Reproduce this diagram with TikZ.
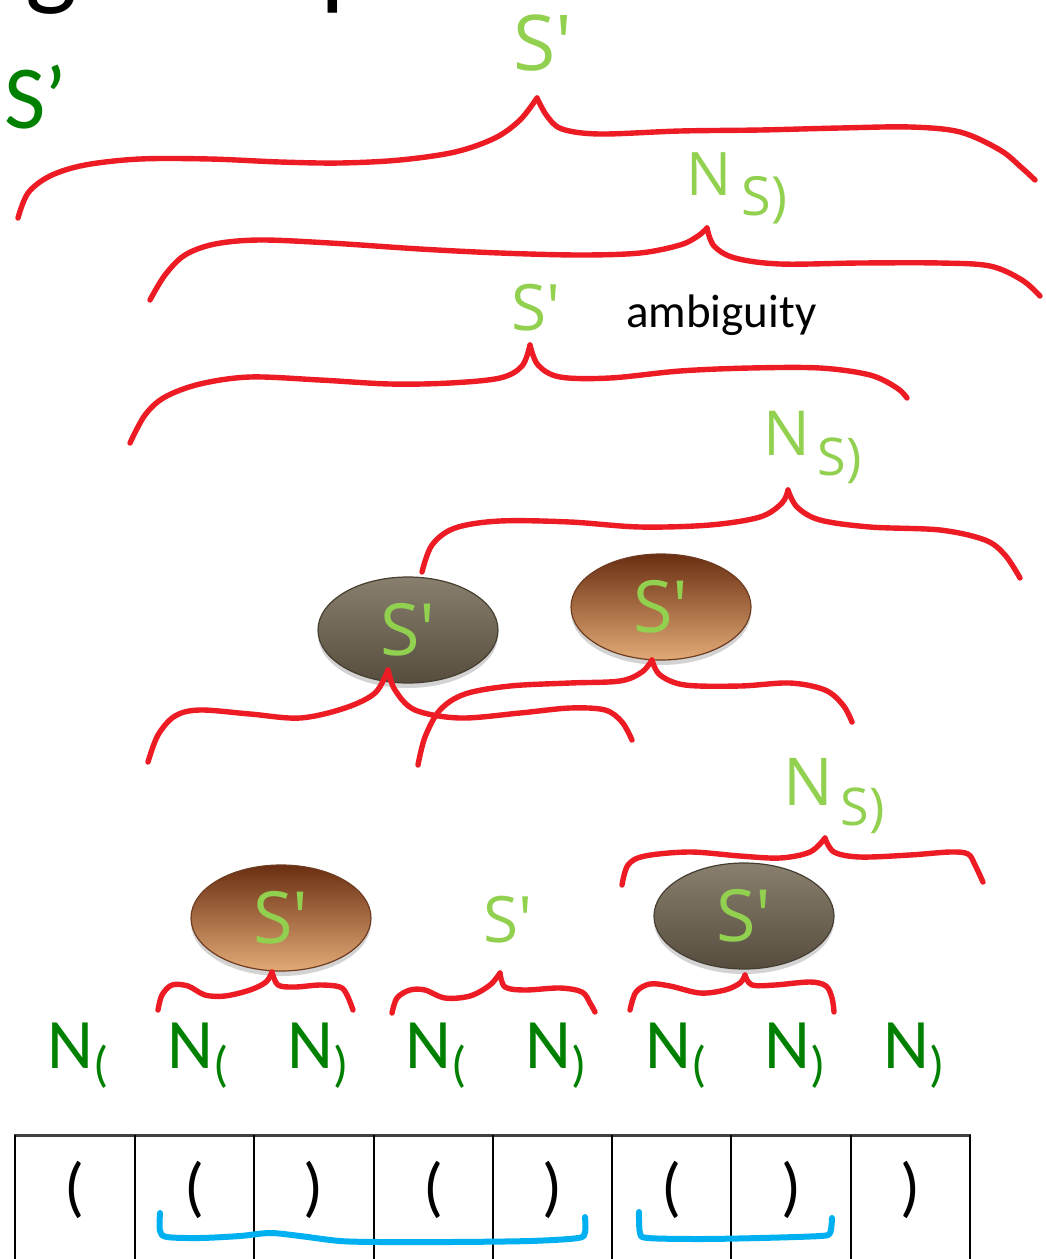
\documentclass[tikz,border=0pt]{standalone}
\usepackage{fontspec}
\usetikzlibrary{shapes.geometric,shadows}
\newfontfamily\calib{Carlito}
\newfontfamily\handfont[Ligatures=TeXOff]{Open Sans}
\newcommand\setfs[1]{\fontsize{#1}{#1}\selectfont}
\definecolor{bracered}{RGB}{237,28,36}
\definecolor{braceblue}{RGB}{0,176,240}
\definecolor{handgreen}{RGB}{146,208,80}
\definecolor{ngreen}{RGB}{0,128,0}
\definecolor{graytop}{RGB}{136,127,110}
\definecolor{graymid}{RGB}{112,102,85}
\definecolor{graybot}{RGB}{86,77,62}
\definecolor{grayedge}{RGB}{70,62,48}
\definecolor{browntop}{RGB}{106,47,18}
\definecolor{brownmid}{RGB}{170,92,46}
\definecolor{brownbot}{RGB}{226,170,118}
\definecolor{brownedge}{RGB}{110,60,32}
\begin{document}
\begin{tikzpicture}[x=1pt,y=-1pt,
  redbrace/.style={draw=bracered,line width=5.4pt,line cap=round,line join=round},
  bluebrace/.style={draw=braceblue,line width=6pt,line cap=round,line join=round},
  hand/.style={text=handgreen,inner sep=0pt,anchor=base west},
  nlab/.style={text=ngreen,inner sep=0pt,anchor=base west,font=\calib\setfs{71}},
  cellparen/.style={inner sep=0pt,anchor=base,font=\calib\setfs{66}},
  pebble/.style={ellipse,minimum width=180pt,minimum height=106pt,inner sep=0pt,
    line width=1.2pt,text=handgreen,font=\handfont\setfs{72},
    drop shadow={shadow xshift=0pt,shadow yshift=-5pt,opacity=0.35}},
  graypebble/.style={pebble,draw=grayedge,top color=graytop,middle color=graymid,bottom color=graybot},
  brownpebble/.style={pebble,draw=brownedge,top color=browntop,middle color=brownmid,bottom color=brownbot},
  gridline/.style={draw=black,line width=1.6pt}
]
\useasboundingbox (0,0) rectangle (1046,1259);

% title (partly outside the page)
\node[anchor=base east,inner sep=0pt,font=\calib\setfs{110}] (title) at (473,-5) {ing an input};

% start symbol
\node[anchor=base west,inner sep=0pt,text=ngreen,font=\calib\setfs{90}] (start) at (4,128) {S’};

% ---- red braces, each as two strokes meeting at a peak ----
% top S'
\coordinate (p1) at (537,98);
\draw[redbrace] plot[smooth,tension=0.55] coordinates {(18,218) (28,193) (50,176) (85,165) (140,159) (210,159) (280,162) (340,163) (400,160) (455,152) (495,138) (520,120) (p1)};
\draw[redbrace] plot[smooth,tension=0.55] coordinates {(p1) (547,116) (562,129) (600,134) (680,131) (760,130) (840,128) (910,127) (960,132) (1000,150) (1022,168) (1035,180)};
\node[hand,font=\handfont\setfs{77}] (l1) at (513,70) {S'};

% N_S) upper
\coordinate (p2) at (707,228);
\draw[redbrace] plot[smooth,tension=0.55] coordinates {(150,300) (165,275) (185,255) (215,244) (260,240) (330,243) (420,249) (500,253) (580,255) (640,253) (680,245) (698,236) (p2)};
\draw[redbrace] plot[smooth,tension=0.55] coordinates {(p2) (714,246) (735,258) (780,264) (860,263) (940,263) (990,266) (1022,280) (1040,296)};
\node[hand,font=\handfont\setfs{60}] (l2) at (686,195) {N\hspace{10pt}\raisebox{-20pt}{\setfs{54}S)}};

% S' with ambiguity
\coordinate (p3) at (530,345);
\draw[redbrace] plot[smooth,tension=0.55] coordinates {(130,443) (145,415) (165,397) (200,384) (250,377) (320,380) (390,384) (450,383) (500,378) (522,366) (p3)};
\draw[redbrace] plot[smooth,tension=0.55] coordinates {(p3) (538,365) (560,377) (610,378) (680,371) (750,368) (820,368) (870,375) (897,388) (907,398)};
\node[hand,font=\handfont\setfs{64}] (l3) at (511,330) {S'};
\node[anchor=base west,inner sep=0pt,font=\calib\setfs{47}] (amb) at (626,327) {ambiguity};

% N_S) middle
\coordinate (p4) at (788,490);
\draw[redbrace] plot[smooth,tension=0.55] coordinates {(422,572) (432,545) (455,528) (500,521) (570,522) (640,527) (710,525) (760,517) (782,503) (p4)};
\draw[redbrace] plot[smooth,tension=0.55] coordinates {(p4) (797,507) (820,520) (870,527) (940,530) (985,540) (1005,555) (1020,578)};
\node[hand,font=\handfont\setfs{62}] (l4) at (763,455) {N\hspace{8pt}\raisebox{-20pt}{\setfs{52}S)}};

% pebbles of the middle level
\node[graypebble] (e1) at (408,630) {S'};
\node[brownpebble] (e2) at (661,607) {S'};

% braces under the middle pebbles
\coordinate (p5) at (388,670);
\draw[redbrace] plot[smooth,tension=0.55] coordinates {(148,762) (158,735) (175,716) (200,710) (250,714) (300,718) (345,708) (375,693) (p5)};
\draw[redbrace] plot[smooth,tension=0.55] coordinates {(p5) (395,690) (415,710) (460,718) (520,713) (570,708) (605,710) (622,722) (632,740)};
\coordinate (p6) at (652,660);
\draw[redbrace] plot[smooth,tension=0.55] coordinates {(418,765) (425,737) (440,710) (465,694) (510,686) (570,683) (620,681) (642,672) (p6)};
\draw[redbrace] plot[smooth,tension=0.55] coordinates {(p6) (660,675) (685,685) (740,686) (790,683) (825,690) (843,705) (852,722)};

% N_S) lower
\node[hand,font=\handfont\setfs{66}] (l7) at (783,805) {N\hspace{8pt}\raisebox{-20pt}{\setfs{52}S)}};
\coordinate (p7) at (825,838);
\draw[redbrace] plot[smooth,tension=0.55] coordinates {(622,885) (628,865) (645,856) (690,852) (740,856) (780,858) (810,852) (p7)};
\draw[redbrace] plot[smooth,tension=0.55] coordinates {(p7) (834,852) (860,857) (910,855) (950,852) (968,854) (975,865) (983,882)};

% pebbles of the lower level
\node[brownpebble] (e3) at (281,918) {S'};
\node[hand,font=\handfont\setfs{64}] (l8) at (483,942) {S'};
\node[graypebble] (e4) at (744,916) {S'};

% small braces over the N pairs
\coordinate (p8) at (272,972);
\draw[redbrace] plot[smooth,tension=0.55] coordinates {(158,1010) (162,995) (172,985) (188,986) (205,995) (225,996) (250,990) (266,982) (p8)};
\draw[redbrace] plot[smooth,tension=0.55] coordinates {(p8) (278,985) (295,987) (320,985) (340,987) (347,995) (353,1010)};
\coordinate (p9) at (500,973);
\draw[redbrace] plot[smooth,tension=0.55] coordinates {(392,1013) (397,998) (410,990) (425,990) (445,998) (470,996) (490,985) (p9)};
\draw[redbrace] plot[smooth,tension=0.55] coordinates {(p9) (505,987) (525,990) (560,988) (582,992) (590,1003) (595,1012)};
\coordinate (p10) at (745,975);
\draw[redbrace] plot[smooth,tension=0.55] coordinates {(630,1010) (636,992) (650,984) (670,986) (700,993) (725,990) (740,983) (p10)};
\draw[redbrace] plot[smooth,tension=0.55] coordinates {(p10) (752,985) (775,985) (810,982) (826,986) (832,998) (834,1012)};

% terminal labels
\node[nlab] (n1) at (47,1068) {N\raisebox{-13pt}{\setfs{50}(}};
\node[nlab] (n2) at (167,1068) {N\raisebox{-13pt}{\setfs{50}(}};
\node[nlab] (n3) at (287,1068) {N\raisebox{-13pt}{\setfs{50})}};
\node[nlab] (n4) at (405,1068) {N\raisebox{-13pt}{\setfs{50}(}};
\node[nlab] (n5) at (525,1068) {N\raisebox{-13pt}{\setfs{50})}};
\node[nlab] (n6) at (645,1068) {N\raisebox{-13pt}{\setfs{50}(}};
\node[nlab] (n7) at (764,1068) {N\raisebox{-13pt}{\setfs{50})}};
\node[nlab] (n8) at (883,1068) {N\raisebox{-13pt}{\setfs{50})}};

% input tape
\draw[draw=black!75,line width=3pt] (14,1135) -- (971,1135);
\foreach \x in {15,135,254,374,493,612,731,851,970}
  \draw[gridline] (\x,1135) -- (\x,1262);
\node[cellparen] (c1) at (75,1209) {(};
\node[cellparen] (c2) at (194.5,1209) {(};
\node[cellparen] (c3) at (314,1209) {)};
\node[cellparen] (c4) at (433.5,1209) {(};
\node[cellparen] (c5) at (552.5,1209) {)};
\node[cellparen] (c6) at (671.5,1209) {(};
\node[cellparen] (c7) at (791,1209) {)};
\node[cellparen] (c8) at (910.5,1209) {)};

% blue brackets under balanced groups
\draw[bluebrace] plot[smooth,tension=0.5] coordinates {(160,1213) (160,1231) (167,1237) (200,1238) (240,1236) (270,1233) (300,1236) (340,1241) (380,1242) (450,1242) (530,1241) (578,1238) (585,1232) (585,1217)};
\draw[bluebrace] plot[smooth,tension=0.5] coordinates {(639,1212) (640,1233) (648,1238) (700,1239) (760,1238) (820,1236) (830,1233) (832,1218)};
\end{tikzpicture}
\end{document}
